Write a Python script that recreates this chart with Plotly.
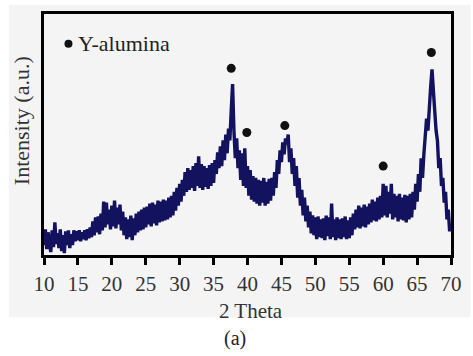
import numpy as np
import plotly.graph_objects as go

# 2-theta grid: 10.0 .. 70.0 in 0.2 steps (rows = one degree, 5 samples each)
two_theta = [round(10 + 0.2 * i, 1) for i in range(301)]

intensity_rows = [
    [12, 28, 8, 25, 14],     # 10
    [5, 27, 10, 35, 13],     # 11
    [24, 9, 28, 6, 22],      # 12
    [4, 26, 12, 27, 9],      # 13
    [23, 12, 27, 16, 26],    # 14
    [17, 27, 16, 25, 18],    # 15
    [27, 17, 28, 19, 30],    # 16
    [20, 36, 22, 40, 25],    # 17
    [41, 23, 44, 27, 56],    # 18
    [30, 55, 33, 48, 28],    # 19
    [52, 31, 57, 29, 50],    # 20
    [33, 53, 27, 46, 22],    # 21
    [40, 18, 38, 20, 42],    # 22
    [17, 39, 22, 44, 25],    # 23
    [46, 27, 48, 28, 50],    # 24
    [30, 51, 33, 54, 31],    # 25
    [55, 34, 53, 32, 57],    # 26
    [35, 56, 36, 58, 37],    # 27
    [57, 38, 60, 40, 62],    # 28
    [42, 66, 47, 70, 52],    # 29
    [74, 56, 78, 62, 86],    # 30
    [66, 90, 68, 88, 70],    # 31
    [92, 67, 95, 72, 102],   # 32
    [70, 94, 68, 92, 71],    # 33
    [90, 69, 93, 72, 95],    # 34
    [75, 98, 84, 106, 90],   # 35
    [112, 92, 118, 98, 124], # 36
    [105, 130, 118, 148, 175],  # 37
    [128, 100, 120, 90, 108],   # 38
    [78, 105, 72, 110, 70],  # 39
    [92, 62, 88, 58, 82],    # 40
    [56, 80, 54, 78, 52],    # 41
    [77, 55, 80, 52, 76],    # 42
    [54, 79, 57, 80, 62],    # 43
    [86, 70, 98, 84, 108],   # 44
    [96, 116, 104, 120, 114],  # 45
    [124, 96, 110, 84, 100], # 46
    [72, 92, 60, 80, 52],    # 47
    [68, 42, 60, 36, 52],    # 48
    [30, 46, 24, 42, 22],    # 49
    [40, 18, 41, 20, 38],    # 50
    [19, 39, 17, 42, 21],    # 51
    [40, 18, 54, 20, 38],    # 52
    [17, 40, 19, 38, 18],    # 53
    [39, 20, 41, 18, 37],    # 54
    [19, 40, 22, 44, 28],    # 55
    [48, 30, 52, 29, 50],    # 56
    [31, 53, 30, 51, 33],    # 57
    [54, 35, 58, 37, 56],    # 58
    [36, 60, 38, 62, 40],    # 59
    [74, 42, 72, 40, 66],    # 60
    [44, 74, 38, 64, 40],    # 61
    [62, 36, 64, 38, 60],    # 62
    [37, 63, 35, 62, 38],    # 63
    [64, 40, 66, 48, 74],    # 64
    [56, 84, 66, 100, 80],   # 65
    [104, 122, 140, 128, 158],  # 66
    [172, 190, 162, 148, 128],  # 67
    [118, 90, 100, 72, 80],  # 68
    [55, 66, 38, 48, 26],    # 69
    [34],                    # 70
]
intensity = [v for row in intensity_rows for v in row]

# Y-alumina reflections (peak markers)
peak_theta = [37.6, 39.9, 45.5, 60.0, 67.1]
peak_height = [191, 126, 133, 92, 207]

x_ticks = [10, 15, 20, 25, 30, 35, 40, 45, 50, 55, 60, 65, 70]
legend_label = "Y-alumina"

SERIF = "Liberation Serif"
W, H = 473, 356
ML, MR, MT, MB = 44, 13, 11, 101
pw, ph = W - ML - MR, H - MT - MB

def px_x(p):
    return (p - ML) / pw

def px_y(p):
    return (H - MB - p) / ph

fig = go.Figure()
fig.add_trace(go.Scatter(
    x=two_theta, y=intensity, mode="lines",
    line=dict(color="#12125f", width=3.4),
    showlegend=False, hoverinfo="skip",
))
fig.add_trace(go.Scatter(
    x=peak_theta, y=peak_height, mode="markers",
    marker=dict(color="#111111", size=9),
    showlegend=False,
))

shapes = [
    dict(type="rect", xref="paper", yref="paper",
         x0=px_x(8), x1=px_x(480), y0=px_y(318), y1=px_y(2),
         fillcolor="#f4f4f4", line=dict(width=0), layer="below"),
    dict(type="circle", xref="paper", yref="paper",
         xsizemode="pixel", ysizemode="pixel",
         xanchor=px_x(69), yanchor=px_y(41),
         x0=-4, x1=4, y0=-4, y1=4,
         fillcolor="#111111", line=dict(width=0)),
]

annotations = [
    dict(text=legend_label, xref="paper", yref="paper",
         x=px_x(77), y=px_y(41), xanchor="left", yanchor="middle",
         showarrow=False, font=dict(family=SERIF, size=22, color="#222")),
    dict(text="Intensity (a.u.)", xref="paper", yref="paper",
         x=px_x(21), y=px_y(119), xanchor="center", yanchor="middle",
         textangle=-90, showarrow=False,
         font=dict(family=SERIF, size=22, color="#333")),
    dict(text="2 Theta", xref="paper", yref="paper",
         x=px_x(256), y=px_y(312), xanchor="center", yanchor="middle",
         showarrow=False, font=dict(family=SERIF, size=21, color="#333")),
    dict(text="(a)", xref="paper", yref="paper",
         x=px_x(239), y=px_y(340), xanchor="center", yanchor="middle",
         showarrow=False, font=dict(family=SERIF, size=20, color="#222")),
]

fig.update_layout(
    width=W, height=H,
    margin=dict(l=ML, r=MR, t=MT, b=MB),
    paper_bgcolor="white", plot_bgcolor="rgba(0,0,0,0)",
    shapes=shapes, annotations=annotations,
    xaxis=dict(range=[10, 70], tickvals=x_ticks, ticktext=[str(t) for t in x_ticks],
               ticks="outside", ticklen=7, tickwidth=3, tickcolor="black",
               ticklabelstandoff=1,
               showline=True, linewidth=3, linecolor="black", mirror=True,
               showgrid=False, zeroline=False,
               tickfont=dict(family=SERIF, size=21, color="#333")),
    yaxis=dict(range=[2, 246], showticklabels=False, ticks="",
               showline=True, linewidth=3, linecolor="black", mirror=True,
               showgrid=False, zeroline=False),
)

fig.write_html("out.html")
